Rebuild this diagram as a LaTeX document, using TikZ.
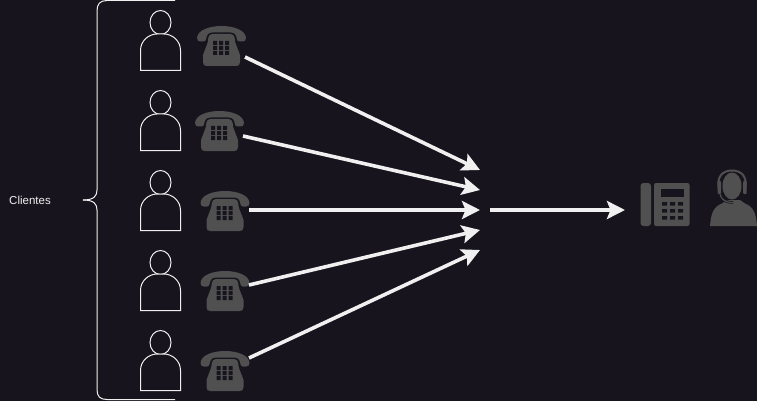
\documentclass[tikz,border=0pt]{standalone}
\usepackage{fontspec}
\setmainfont{Liberation Sans}
\usetikzlibrary{arrows.meta}
\definecolor{bgdark}{HTML}{18141D}
\definecolor{icongray}{HTML}{505050}
\definecolor{linelight}{HTML}{F0F0F0}
\tikzset{
  flowarrow/.style={draw=linelight,fill=linelight,line width=3.6pt,-{Stealth[length=18pt,width=18pt,inset=3.5pt]}},
  outline/.style={draw=linelight,line width=1pt},
  lbl/.style={text=linelight,font=\fontsize{11.5pt}{13pt}\selectfont,inner sep=0pt},
  person/.pic={
    \begin{scope}[yscale=-1]
    % head and shoulders, origin at the foot centre
    \draw [outline] (-0.5,-48) ellipse (10.5 and 12);
    \draw [outline,fill=bgdark] (-20.5,0) -- (-20.5,-20) .. controls (-20.5,-30) and (-12,-36.5) .. (-4,-36.5) -- (3,-36.5) .. controls (11,-36.5) and (19.5,-30) .. (19.5,-20) -- (19.5,0) -- cycle;
    \end{scope}
  },
  telephone/.pic={
    \begin{scope}[yscale=-1]
    % handset
    \fill [icongray] (-24.5,-8) .. controls (-24,-16) and (-12,-20) .. (0,-20) .. controls (12,-20) and (24,-16) .. (24.5,-8) .. controls (24.5,-5.5) and (23,-4.5) .. (21,-4.5) -- (18,-4.5) .. controls (16,-4.5) and (15.5,-6) .. (15.2,-8) .. controls (14.5,-11.5) and (13,-13.5) .. (9,-13.5) -- (-9,-13.5) .. controls (-13,-13.5) and (-14.5,-11.5) .. (-15.2,-8) .. controls (-15.5,-6) and (-16,-4.5) .. (-18,-4.5) -- (-21,-4.5) .. controls (-23,-4.5) and (-24.5,-5.5) .. (-24.5,-8) -- cycle;
    % body
    \fill [icongray] (-9,-12) -- (9,-12) .. controls (11.5,-12) and (12.8,-10.5) .. (13.2,-8) -- (13.8,-3.5) -- (18.5,9) -- (18.5,16) .. controls (18.5,19) and (17,20) .. (15,20) -- (-15,20) .. controls (-17,20) and (-18.5,19) .. (-18.5,16) -- (-18.5,9) -- (-13.8,-3.5) -- (-13.2,-8) .. controls (-12.8,-10.5) and (-11.5,-12) .. (-9,-12) -- cycle;
    % keypad
    \fill [bgdark] (-8.5,-5) rectangle (-4.5,-1) (-2.5,-5) rectangle (1.5,-1) (3.5,-5) rectangle (7.5,-1)
                   (-8.5,0) rectangle (-4.5,4) (-2.5,0) rectangle (1.5,4) (3.5,0) rectangle (7.5,4)
                   (-8.5,5) rectangle (-4.5,9) (-2.5,5) rectangle (1.5,9) (3.5,5) rectangle (7.5,9);
    \end{scope}
  }
}
\begin{document}
\begin{tikzpicture}[x=1pt,y=1pt,yscale=-1,xscale=1]
\fill [bgdark] (0,0) rectangle (757,401);
\useasboundingbox (0,0) rectangle (757,401);

% Clients
\pic at (161,70.5) {person};
\pic at (161,150.5) {person};
\pic at (161,230.5) {person};
\pic at (161,310.5) {person};
\pic at (161,390.5) {person};

% Phones
\pic at (221.5,46) {telephone};
\pic at (219.5,131) {telephone};
\pic at (225,211) {telephone};
\pic at (225,291) {telephone};
\pic at (225,371) {telephone};

% Brace
\node [lbl] (clientes) at (30,200) {Clientes};
\coordinate (braceTop) at (175,0.5);
\coordinate (braceBottom) at (175,399.5);
\coordinate (braceTip) at (83,200);
\draw [outline] (braceTop) -- (107,0.5) .. controls (100,0.5) and (97,4) .. (97,11) -- (97,190) .. controls (97,196) and (94,200) .. (braceTip);
\draw [outline] (braceBottom) -- (107,399.5) .. controls (100,399.5) and (97,396.5) .. (97,389.5) -- (97,210) .. controls (97,204) and (94,200) .. (braceTip);

% Arrows
\coordinate (startA) at (245,57);
\coordinate (startB) at (243,136);
\coordinate (startC) at (249,210);
\coordinate (startD) at (249,285);
\coordinate (startE) at (249,358);
\coordinate (endA) at (480,170);
\coordinate (endB) at (480,190);
\coordinate (endC) at (480,210);
\coordinate (endD) at (480,230);
\coordinate (endE) at (480,250);
\coordinate (trunkStart) at (490,210);
\coordinate (trunkEnd) at (625,210);
\draw [flowarrow] (startA) -- (endA);
\draw [flowarrow] (startB) -- (endB);
\draw [flowarrow] (startC) -- (endC);
\draw [flowarrow] (startD) -- (endD);
\draw [flowarrow] (startE) -- (endE);
\draw [flowarrow] (trunkStart) -- (trunkEnd);

% Desk phone
\fill [icongray,rounded corners=3pt] (640.5,183) rectangle (651,226);
\fill [icongray,rounded corners=2pt] (654,183) rectangle (689.5,226);
\fill [bgdark] (661,189) rectangle (683.5,197);
\fill [bgdark] (662,202) rectangle (667,205.5) (670,202) rectangle (675,205.5) (678,202) rectangle (683,205.5)
               (662,209) rectangle (667,212.5) (670,209) rectangle (675,212.5) (678,209) rectangle (683,212.5)
               (662,216) rectangle (667,219.5) (670,216) rectangle (675,219.5) (678,216) rectangle (683,219.5);

% Agent
\fill [icongray] (710,226) .. controls (711,214) and (713,207) .. (722,203.5) -- (727,200) -- (740,200) -- (745,203.5) .. controls (754,207) and (756,214) .. (757,226) -- cycle;
\fill [icongray] (732,186) ellipse (9.5 and 13.5);
\draw [icongray,line width=2pt] (719,190) .. controls (716,176) and (723,170.5) .. (732,170.5) .. controls (741,170.5) and (748,176) .. (745,190);
\fill [icongray,rounded corners=1pt] (717.5,181) rectangle (721,194);
\fill [icongray,rounded corners=1pt] (743,181) rectangle (746.5,194);
\draw [bgdark,line width=2.6pt] (720,194) .. controls (721,199) and (725,202.5) .. (733,202.5);
\draw [icongray,line width=1.2pt] (720,194) .. controls (721,199) and (725,202.5) .. (733,202.5);
\end{tikzpicture}
\end{document}
